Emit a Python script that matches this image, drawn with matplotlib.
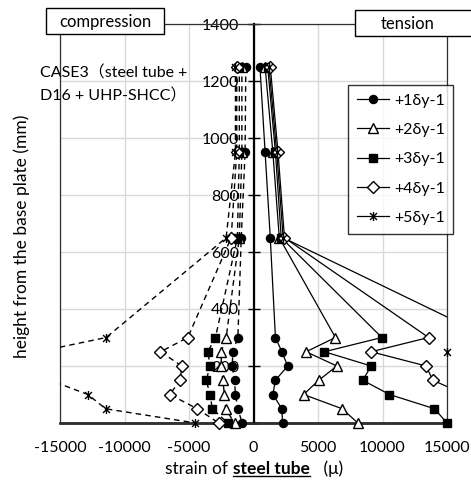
import numpy as np
import matplotlib
matplotlib.use("Agg")
import matplotlib.pyplot as plt
from matplotlib.path import Path
from matplotlib.patches import Rectangle
from matplotlib.lines import Line2D

plt.rcParams['font.family'] = ['Lato', 'Noto Sans CJK JP', 'DejaVu Sans']
plt.rcParams['axes.unicode_minus'] = False

# measuring heights (mm), in drawing order
heights = [1250, 950, 650, 300, 250, 200, 150, 100, 50, 0]

labels = ['+1δy-1', '+2δy-1', '+3δy-1', '+4δy-1', '+5δy-1']

# tension side strain (μ)
tension = [
    [500, 900, 1300, 1700, 2200, 2650, 1700, 1500, 2200, 2250],
    [900, 1500, 2000, 6350, 4080, 6460, 5060, 3880, 6870, 8090],
    [1100, 1700, 2150, 9950, 5500, 9120, 8470, 10540, 14030, 15000],
    [1300, 1900, 2400, 13570, 9120, 13380, 13900, 16400, 17500, 18500],
    [1200, 1800, 2300, 18300, 15000, 19000, 20000, 21000, 22000, 23000],
]

# compression side strain (μ)
compression = [
    [-600, -650, -950, -1210, -1600, -1650, -1470, -1400, -1210, -880],
    [-900, -900, -1100, -2120, -2500, -2500, -2380, -2250, -2170, -1470],
    [-1100, -1100, -1250, -2950, -3540, -3360, -3670, -3360, -3200, -1990],
    [-1300, -1300, -1730, -5090, -7210, -5560, -5680, -6490, -4360, -2690],
    [-1400, -1400, -2120, -11420, -16700, -17500, -15760, -12840, -11470, -4500],
]

x_ticks = [-15000, -10000, -5000, 0, 5000, 10000, 15000]
y_ticks = [0, 200, 400, 600, 800, 1000, 1200, 1400]

asterisk = Path([(-1, -1), (1, 1), (-1, 1), (1, -1), (0, -1.3), (0, 1.3)],
                [Path.MOVETO, Path.LINETO] * 3)

styles = [
    dict(marker='o', ms=5.8, mfc='black'),
    dict(marker='^', ms=7.5, mfc='white'),
    dict(marker='s', ms=5.8, mfc='black'),
    dict(marker='D', ms=5.8, mfc='white'),
    dict(marker=asterisk, ms=6.5, mfc='none'),
]

W, H = 471, 484
fig = plt.figure(figsize=(W / 100, H / 100), dpi=100)
ax = fig.add_axes([60 / W, 1 - 423 / H, 387 / W, 399 / H])
ax.set_xlim(-15000, 15000)
ax.set_ylim(0, 1400)

ax.set_xticks(x_ticks)
ax.set_yticks(y_ticks)
ax.set_yticklabels(['' if v == 0 else str(v) for v in y_ticks])
ax.grid(True, color='#d9d9d9', lw=1)
ax.set_axisbelow(True)

for s in ['top', 'right']:
    ax.spines[s].set_visible(False)
ax.spines['left'].set_position(('data', 0))
ax.spines['left'].set_linewidth(1.6)
ax.spines['bottom'].set_linewidth(1.8)
ax.tick_params(axis='y', direction='inout', length=9, width=1, pad=6, labelsize=11.5)
ax.tick_params(axis='x', length=0, pad=13, labelsize=11.5)

ax.add_patch(Rectangle((-15000, 0), 30000, 1400, fill=False, lw=0.9,
                       ec='#303030', zorder=3, clip_on=False))

h = np.array(heights)
handles = []
for t, c, st, lab in zip(tension, compression, styles, labels):
    t = np.array(t)
    c = np.array(c)
    ax.plot(t, h, color='black', lw=0.9, zorder=3)
    ax.plot(c, h, color='black', lw=1.0, ls=(0, (4, 3)), zorder=3)
    for v in (t, c):
        m = np.abs(v) <= 15000
        ax.plot(v[m], h[m], ls='none', color='black', mec='black', mew=1,
                clip_on=False, zorder=4, **st)
    handles.append(Line2D([], [], color='black', lw=0.9, mec='black', mew=1,
                          label=lab, **st))

leg = ax.legend(handles=handles, loc='upper left', bbox_to_anchor=(0.745, 0.848),
                fontsize=11.5, frameon=True, fancybox=False, edgecolor='black',
                handlelength=2.0, labelspacing=0.95, borderpad=0.55,
                handletextpad=0.3, borderaxespad=0)
leg.get_frame().set_linewidth(1)
leg.set_zorder(6)

# boxed captions
for (x0, y0, x1, y1, txt) in [(46, 8, 164, 34, 'compression'),
                              (355, 10, 476, 36, 'tension')]:
    fig.patches.append(Rectangle((x0 / W, 1 - y1 / H), (x1 - x0) / W, (y1 - y0) / H,
                                 transform=fig.transFigure, fc='white',
                                 ec='black', lw=1, zorder=5))
fig.text(105 / W, 1 - 22 / H, 'compression', ha='center', va='center',
         fontsize=12, zorder=6)
fig.text(408 / W, 1 - 24 / H, 'tension', ha='center', va='center',
         fontsize=12, zorder=6)

fig.text(40 / W, 1 - 73 / H, 'CASE3（steel tube +', ha='left', va='center',
         fontsize=11.5)
fig.text(40 / W, 1 - 96 / H, 'D16 + UHP-SHCC）', ha='left', va='center',
         fontsize=11.5)

fig.text(22 / W, 1 - 236 / H, 'height from the base plate (mm)', rotation=90,
         ha='center', va='center', fontsize=12.5)

# x label with bold underlined part
fig.canvas.draw()
r = fig.canvas.get_renderer()
ylab = 1 - 469 / H
parts = [('strain of ', 'normal'), ('steel tube', 'bold'), ('   (μ)', 'normal')]
texts = [fig.text(0, ylab, p, fontsize=12.5, fontweight=w, va='center', ha='left')
         for p, w in parts]
widths = [tx.get_window_extent(r).width for tx in texts]
x = 254 - sum(widths) / 2
for tx, w in zip(texts, widths):
    tx.set_x(x / W)
    x += w
fig.canvas.draw()
bb = texts[1].get_window_extent(r)
fig.lines.append(Line2D([bb.x0 / W, bb.x1 / W], [(bb.y0 + 1) / H] * 2,
                        transform=fig.transFigure, color='black', lw=1))

fig.savefig('out.png', dpi=100)
